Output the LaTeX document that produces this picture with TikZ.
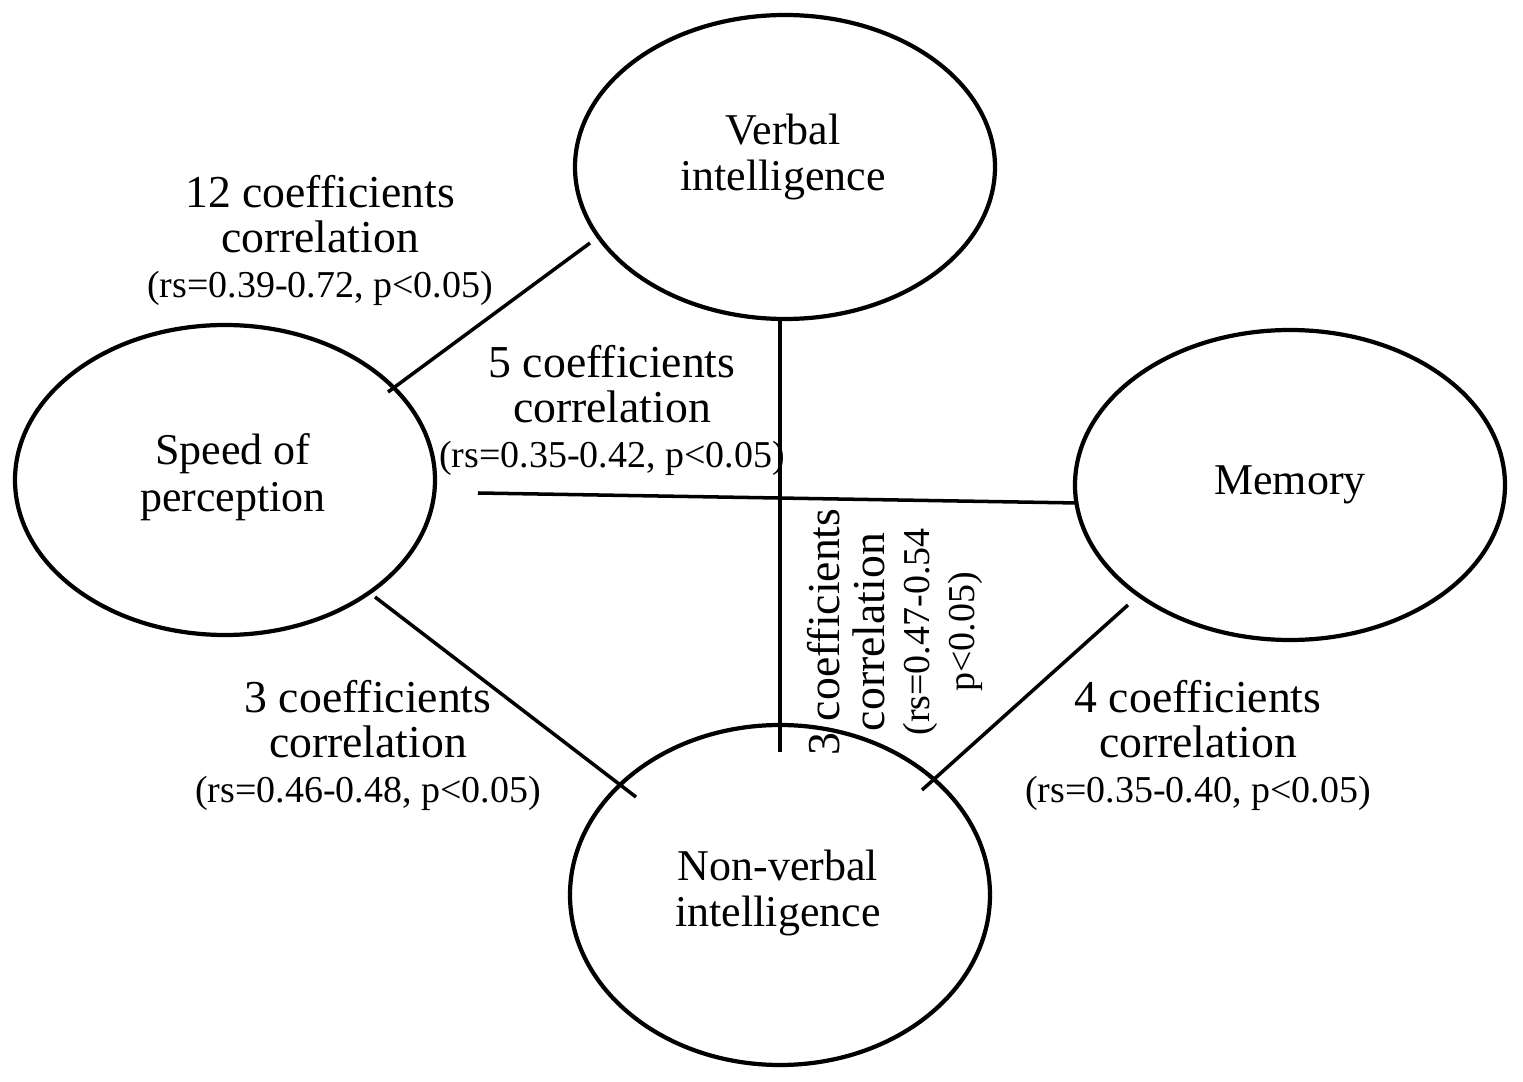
\documentclass[tikz,border=0pt]{standalone}
\usepackage{fontspec}
\setmainfont{Liberation Serif}
\newcommand{\smalltxt}{\fontsize{10.8}{12.5}\selectfont}
\begin{document}
\begin{tikzpicture}[x=0.01cm,y=-0.01cm,
  nodetxt/.style={font=\fontsize{12.5}{13.3}\selectfont,align=center},
  lab/.style={align=center,font=\fontsize{13}{12.8}\selectfont},
  edge/.style={line width=1pt}]
\useasboundingbox (0,0) rectangle (1523,1082);
\draw[line width=1.2pt] (785,167) ellipse (210 and 152);
\draw[line width=1.2pt] (225,480) ellipse (210 and 155);
\draw[line width=1.2pt] (1290,485) ellipse (215 and 155);
\draw[line width=1.2pt] (780,895) ellipse (210 and 170);
\node[nodetxt] (verbal) at (783,157) {Verbal\\intelligence};
\node[nodetxt] (speed) at (233,477) {Speed of\\perception};
\node[nodetxt] (memory) at (1290,485) {Memory};
\node[nodetxt] (nonverbal) at (778,893) {Non-verbal\\intelligence};
\coordinate (a1) at (388,392); \coordinate (a2) at (590,243);
\coordinate (b1) at (478,493); \coordinate (b2) at (1078,503);
\coordinate (c1) at (780,318); \coordinate (c2) at (780,752);
\coordinate (d1) at (375,597); \coordinate (d2) at (636,797);
\coordinate (e1) at (1128,605); \coordinate (e2) at (922,790);
\draw[edge] (a1) -- (a2);
\draw[edge] (b1) -- (b2);
\draw[edge] (c1) -- (c2);
\draw[edge] (d1) -- (d2);
\draw[edge] (e1) -- (e2);
\node[lab] (l1) at (320,240) {12 coefficients\\correlation\\{\smalltxt(rs=0.39-0.72, p<0.05)}};
\node[lab] (l2) at (612,410) {5 coefficients\\correlation\\{\smalltxt(rs=0.35-0.42, p<0.05)}};
\node[lab] (l3) at (368,745) {3 coefficients\\correlation\\{\smalltxt(rs=0.46-0.48, p<0.05)}};
\node[lab] (l4) at (1198,745) {4 coefficients\\correlation\\{\smalltxt(rs=0.35-0.40, p<0.05)}};
\node[lab,rotate=90] (l5) at (895,632) {3 coefficients\\correlation\\{\smalltxt(rs=0.47-0.54}\\{\smalltxt p<0.05)}};
\end{tikzpicture}
\end{document}
